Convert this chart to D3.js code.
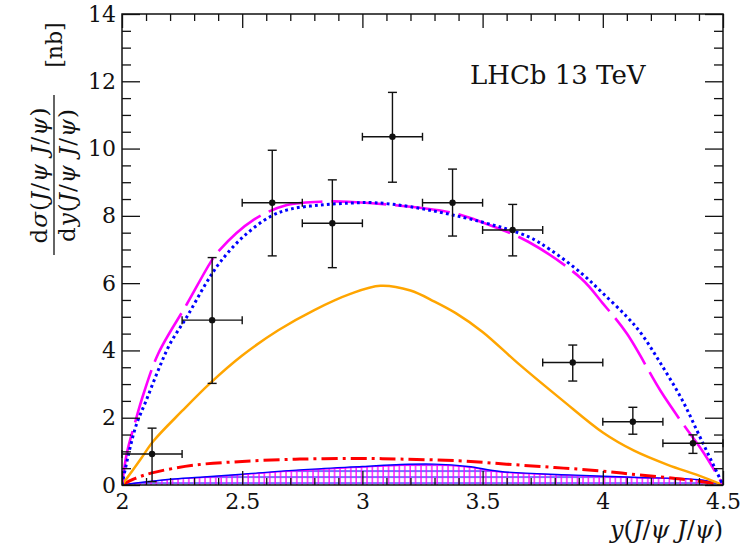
<!DOCTYPE html>
<html><head><meta charset="utf-8">
<script src="https://cdn.jsdelivr.net/npm/d3@7"></script>
<style>
html,body{margin:0;padding:0;background:#fff;}
svg text{font-family:'DejaVu Serif','Liberation Serif',serif;}
</style></head>
<body><svg id="c" width="749" height="554"></svg>
<script>
// ---- data ----
const binLo = [2.0, 2.25, 2.5, 2.75, 3.0, 3.25, 3.5, 3.75, 4.0, 4.25];
const binHi = [2.25, 2.5, 2.75, 3.0, 3.25, 3.5, 3.75, 4.0, 4.25, 4.5];
const binCenter = [2.125, 2.375, 2.625, 2.875, 3.125, 3.375, 3.625, 3.875, 4.125, 4.375];
const dataY = [0.92, 4.9, 8.39, 7.78, 10.35, 8.39, 7.58, 3.64, 1.88, 1.24];
const dataYUp = [1.69, 6.76, 9.95, 9.07, 11.67, 9.39, 8.34, 4.16, 2.31, 1.49];
const dataYLow = [0.1, 3.02, 6.81, 6.46, 9.0, 7.40, 6.81, 3.09, 1.51, 0.94];

const magentaX = [2.0, 2.02, 2.054, 2.09, 2.151, 2.27, 2.37, 2.40, 2.547, 2.686, 2.825, 2.94, 3.2, 3.38, 3.49, 3.69, 3.91, 4.0, 4.1, 4.24, 4.33, 4.42, 4.5];
const magentaY = [0.0, 0.94, 1.85, 2.72, 3.91, 5.38, 6.64, 6.94, 7.88, 8.32, 8.42, 8.42, 8.27, 8.08, 7.83, 7.23, 6.14, 5.4, 4.5, 2.8, 1.85, 0.95, 0.0];

const blueDotX = [2.0, 2.03, 2.06, 2.1, 2.15, 2.2, 2.27, 2.35, 2.41, 2.5, 2.617, 2.7, 2.825, 2.95, 3.05, 3.2, 3.49, 3.69, 3.78, 3.91, 4.0, 4.1, 4.16, 4.24, 4.33, 4.41, 4.5];
const blueDotY = [0.0, 1.0, 1.8, 2.5, 3.4, 4.2, 5.0, 6.0, 6.64, 7.35, 7.98, 8.2, 8.32, 8.38, 8.39, 8.27, 7.83, 7.38, 7.0, 6.3, 5.7, 5.0, 4.5, 3.62, 2.53, 1.34, 0.0];

const orangeX = [2.0, 2.075, 2.13, 2.25, 2.367, 2.5, 2.65, 2.8, 2.95, 3.075, 3.2, 3.3, 3.39, 3.5, 3.65, 3.83, 4.0, 4.13, 4.27, 4.4, 4.5];
const orangeY = [0.0, 0.74, 1.3, 2.2, 3.03, 3.85, 4.6, 5.2, 5.68, 5.92, 5.78, 5.45, 5.1, 4.55, 3.6, 2.53, 1.56, 1.02, 0.6, 0.28, 0.0];

const redX = [2.0, 2.05, 2.125, 2.3, 2.5, 2.74, 3.0, 3.16, 3.4, 3.6, 3.8, 3.99, 4.15, 4.325, 4.45, 4.5];
const redY = [0.0, 0.18, 0.36, 0.59, 0.7, 0.77, 0.79, 0.77, 0.72, 0.62, 0.52, 0.42, 0.3, 0.18, 0.06, 0.0];

const bandX = [2.0, 2.05, 2.2, 2.325, 2.5, 2.74, 3.0, 3.16, 3.3, 3.44, 3.575, 3.86, 4.13, 4.41, 4.5];
const bandY = [0.0, 0.05, 0.17, 0.23, 0.32, 0.45, 0.55, 0.61, 0.62, 0.55, 0.4, 0.3, 0.23, 0.15, 0.0];

const xMajorTicks = [2, 2.5, 3, 3.5, 4, 4.5];
const xTickLabels = ["2", "2.5", "3", "3.5", "4", "4.5"];
const yMajorTicks = [0, 2, 4, 6, 8, 10, 12, 14];
const yTickLabels = ["0", "2", "4", "6", "8", "10", "12", "14"];

// ---- layout ----
const FONT = "DejaVu Serif, Liberation Serif, serif";
const L = 122, R = 723, T = 14, B = 485;
const svg = d3.select("#c").attr("font-family", FONT);
const x = d3.scaleLinear().domain([2, 4.5]).range([L, R]);
const y = d3.scaleLinear().domain([0, 14]).range([B, T]);

const defs = svg.append("defs");
const pv = defs.append("pattern").attr("id", "hv").attr("patternUnits", "userSpaceOnUse")
  .attr("x", L + 1).attr("y", 0).attr("width", 5.4).attr("height", 10);
pv.append("line").attr("x1", 1).attr("x2", 1).attr("y1", 0).attr("y2", 10)
  .attr("stroke", "#ff00ff").attr("stroke-width", 1.3);
const ph = defs.append("pattern").attr("id", "hh").attr("patternUnits", "userSpaceOnUse")
  .attr("x", 0).attr("y", B - 2 - 0.5).attr("width", 10).attr("height", 6);
ph.append("line").attr("x1", 0).attr("x2", 10).attr("y1", 0.5).attr("y2", 0.5)
  .attr("stroke", "#0000ff").attr("stroke-width", 1.2);

const clip = defs.append("clipPath").attr("id", "plotclip");
clip.append("rect").attr("x", L).attr("y", T).attr("width", R - L).attr("height", B - T);

const g = svg.append("g").attr("clip-path", "url(#plotclip)");

function pts(xs, ys) { return xs.map((v, i) => [v, ys[i]]); }
const line = d3.line().x(d => x(d[0])).y(d => y(d[1])).curve(d3.curveCatmullRom.alpha(0.5));
const area = d3.area().x(d => x(d[0])).y0(y(0)).y1(d => y(d[1])).curve(d3.curveCatmullRom.alpha(0.5));

// hatched band
g.append("path").datum(pts(bandX, bandY)).attr("d", area).attr("fill", "url(#hh)");
g.append("path").datum(pts(bandX, bandY)).attr("d", area).attr("fill", "url(#hv)");
g.append("path").datum(pts(bandX, bandY.map(v => v * 0.96))).attr("d", line)
  .attr("fill", "none").attr("stroke", "#ff00ff").attr("stroke-width", 1.2);
g.append("path").datum(pts(bandX, bandY)).attr("d", line)
  .attr("fill", "none").attr("stroke", "#0000ff").attr("stroke-width", 1.4);

// red dash-dot
g.append("path").datum(pts(redX, redY)).attr("d", line).attr("fill", "none")
  .attr("stroke", "#ff0000").attr("stroke-width", 3).attr("stroke-dasharray", "16,5,3,5");
// orange
g.append("path").datum(pts(orangeX, orangeY)).attr("d", line).attr("fill", "none")
  .attr("stroke", "#ffa500").attr("stroke-width", 2.5);
// magenta long dash
g.append("path").datum(pts(magentaX, magentaY)).attr("d", line).attr("fill", "none")
  .attr("stroke", "#ff00ff").attr("stroke-width", 2.6).attr("stroke-dasharray", "55,9");
// blue dotted
g.append("path").datum(pts(blueDotX, blueDotY)).attr("d", line).attr("fill", "none")
  .attr("stroke", "#0000ff").attr("stroke-width", 3).attr("stroke-dasharray", "2.8,3.2");

// data points
const dp = svg.append("g").attr("stroke", "#111").attr("stroke-width", 1.4);
binCenter.forEach((c, i) => {
  const cx = x(c), cy = y(dataY[i]);
  dp.append("line").attr("x1", x(binLo[i])).attr("x2", x(binHi[i])).attr("y1", cy).attr("y2", cy);
  dp.append("line").attr("x1", x(binLo[i])).attr("x2", x(binLo[i])).attr("y1", cy - 4).attr("y2", cy + 4);
  dp.append("line").attr("x1", x(binHi[i])).attr("x2", x(binHi[i])).attr("y1", cy - 4).attr("y2", cy + 4);
  dp.append("line").attr("x1", cx).attr("x2", cx).attr("y1", y(dataYUp[i])).attr("y2", y(dataYLow[i]));
  dp.append("line").attr("x1", cx - 4.5).attr("x2", cx + 4.5).attr("y1", y(dataYUp[i])).attr("y2", y(dataYUp[i]));
  dp.append("line").attr("x1", cx - 4.5).attr("x2", cx + 4.5).attr("y1", y(dataYLow[i])).attr("y2", y(dataYLow[i]));
  dp.append("circle").attr("cx", cx).attr("cy", cy).attr("r", 3.2).attr("fill", "#111").attr("stroke", "none");
});

// frame + ticks
const xMinor = d3.range(20, 46).map(v => v / 10).filter(v => !xMajorTicks.includes(v));
const yMinor = d3.range(0, 29).map(v => v / 2).filter(v => !yMajorTicks.includes(v));
const axStyle = sel => { sel.attr("font-family", FONT); sel.select(".domain").remove(); sel.selectAll("line").attr("stroke", "#111").attr("stroke-width", 1.3); };
const lblStyle = s => s.selectAll("text").attr("font-size", 22).attr("font-family", FONT).attr("fill", "#111");

svg.append("g").attr("transform", `translate(0,${B})`)
  .call(d3.axisBottom(x).tickValues(xMajorTicks).tickSizeInner(-14).tickSizeOuter(0).tickPadding(8)
    .tickFormat((d, i) => xTickLabels[i]))
  .call(axStyle).call(lblStyle);
svg.append("g").attr("transform", `translate(0,${B})`)
  .call(d3.axisBottom(x).tickValues(xMinor).tickSizeInner(-7).tickSizeOuter(0).tickFormat(""))
  .call(axStyle);
svg.append("g").attr("transform", `translate(0,${T})`)
  .call(d3.axisTop(x).tickValues(xMajorTicks).tickSizeInner(-14).tickSizeOuter(0).tickFormat(""))
  .call(axStyle);
svg.append("g").attr("transform", `translate(0,${T})`)
  .call(d3.axisTop(x).tickValues(xMinor).tickSizeInner(-7).tickSizeOuter(0).tickFormat(""))
  .call(axStyle);

svg.append("g").attr("transform", `translate(${L},0)`)
  .call(d3.axisLeft(y).tickValues(yMajorTicks).tickSizeInner(-18).tickSizeOuter(0).tickPadding(6)
    .tickFormat((d, i) => yTickLabels[i]))
  .call(axStyle).call(lblStyle);
svg.append("g").attr("transform", `translate(${L},0)`)
  .call(d3.axisLeft(y).tickValues(yMinor).tickSizeInner(-9).tickSizeOuter(0).tickFormat(""))
  .call(axStyle);
svg.append("g").attr("transform", `translate(${R},0)`)
  .call(d3.axisRight(y).tickValues(yMajorTicks).tickSizeInner(-18).tickSizeOuter(0).tickFormat(""))
  .call(axStyle);
svg.append("g").attr("transform", `translate(${R},0)`)
  .call(d3.axisRight(y).tickValues(yMinor).tickSizeInner(-9).tickSizeOuter(0).tickFormat(""))
  .call(axStyle);

svg.append("rect").attr("x", L).attr("y", T).attr("width", R - L).attr("height", B - T)
  .attr("fill", "none").attr("stroke", "#111").attr("stroke-width", 1.5);

// LHCb label
svg.append("text").attr("x", 470).attr("y", 84).attr("font-size", 26)
  .attr("fill", "#111").text("LHCb 13 TeV");

// x title
function mathText(sel, parts) {
  sel.attr("fill", "#111");
  parts.forEach(p => sel.append("tspan").attr("font-style", p[1] ? "italic" : "normal").text(p[0]));
}
const xt = svg.append("text").attr("x", R).attr("y", 538).attr("text-anchor", "end").attr("font-size", 24);
mathText(xt, [["y", 1], ["(", 0], ["J", 1], ["/", 0], ["ψ", 1], [" ", 0], ["J", 1], ["/", 0], ["ψ", 1], [")", 0]]);

// y title (rotated fraction)
const yl = svg.append("g").attr("transform", "translate(54,175) rotate(-90)");
const num = yl.append("text").attr("x", 0).attr("y", -7).attr("text-anchor", "middle").attr("font-size", 23)
  .attr("letter-spacing", 1);
mathText(num, [["d", 0], ["σ", 1], ["(", 0], ["J", 1], ["/", 0], ["ψ", 1], [" ", 0], ["J", 1], ["/", 0], ["ψ", 1], [")", 0]]);
const den = yl.append("text").attr("x", 0).attr("y", 21).attr("text-anchor", "middle").attr("font-size", 23)
  .attr("letter-spacing", 1);
mathText(den, [["d", 0], ["y", 1], ["(", 0], ["J", 1], ["/", 0], ["ψ", 1], [" ", 0], ["J", 1], ["/", 0], ["ψ", 1], [")", 0]]);
yl.append("line").attr("x1", -80).attr("x2", 80).attr("y1", 0).attr("y2", 0).attr("stroke", "#111").attr("stroke-width", 1.3);
yl.append("text").attr("x", 130).attr("y", 8).attr("text-anchor", "middle").attr("font-size", 22)
  .attr("fill", "#111").text("[nb]");
</script></body></html>
